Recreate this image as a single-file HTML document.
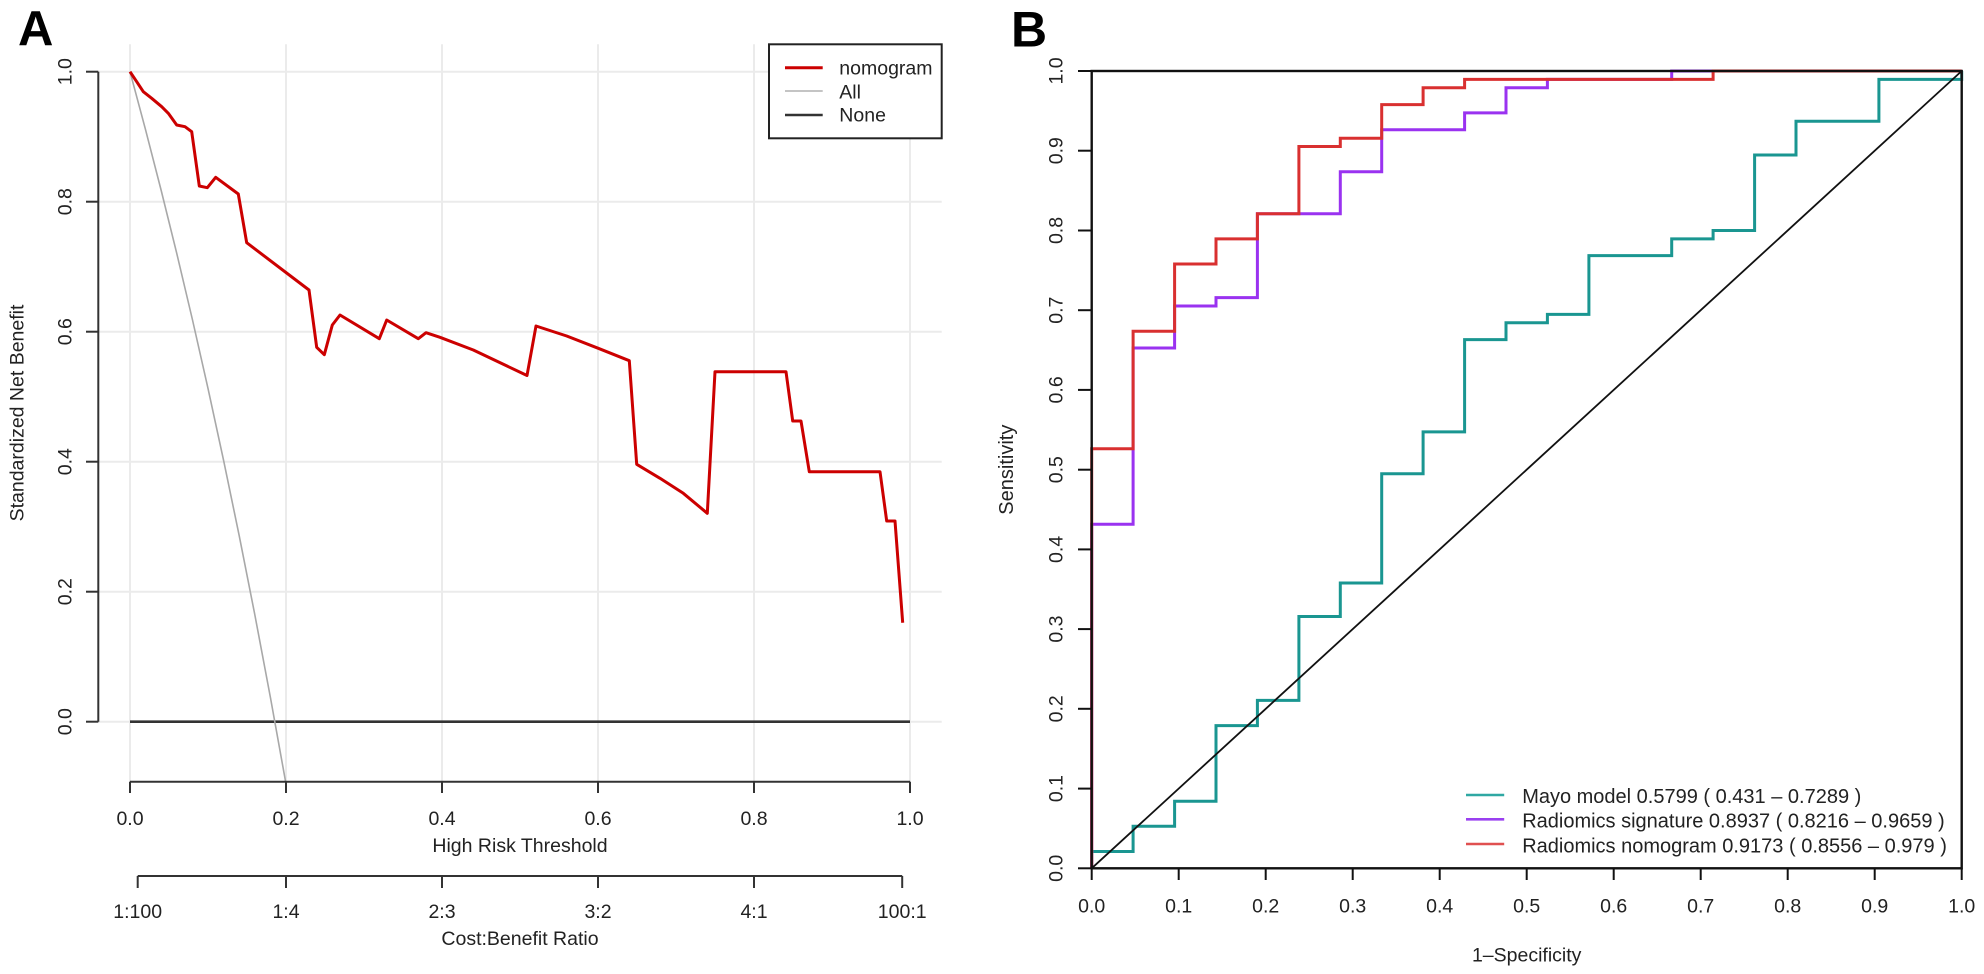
<!DOCTYPE html>
<html>
<head>
<meta charset="utf-8">
<style>
html,body{margin:0;padding:0;background:#fff;}
svg{display:block;}
text{font-family:"Liberation Sans",Arial,sans-serif;fill:#222;}
</style>
</head>
<body>
<svg width="1984" height="974" viewBox="0 0 1984 974" xmlns="http://www.w3.org/2000/svg">
<rect width="1984" height="974" fill="#fff"/>

<!-- ================= PANEL A ================= -->
<text x="18" y="45" font-size="49" font-weight="bold" fill="#000" style="fill:#000">A</text>

<!-- grid -->
<g stroke="#ebebeb" stroke-width="2" fill="none">
  <line x1="98.3" y1="721.7" x2="941.7" y2="721.7"/>
  <line x1="98.3" y1="591.7" x2="941.7" y2="591.7"/>
  <line x1="98.3" y1="461.7" x2="941.7" y2="461.7"/>
  <line x1="98.3" y1="331.7" x2="941.7" y2="331.7"/>
  <line x1="98.3" y1="201.7" x2="941.7" y2="201.7"/>
  <line x1="98.3" y1="71.7" x2="941.7" y2="71.7"/>
  <line x1="130" y1="44.3" x2="130" y2="781.7"/>
  <line x1="286" y1="44.3" x2="286" y2="781.7"/>
  <line x1="442" y1="44.3" x2="442" y2="781.7"/>
  <line x1="598" y1="44.3" x2="598" y2="781.7"/>
  <line x1="754" y1="44.3" x2="754" y2="781.7"/>
  <line x1="910" y1="44.3" x2="910" y2="781.7"/>
</g>

<!-- None line -->
<line x1="130" y1="721.7" x2="910" y2="721.7" stroke="#333" stroke-width="2.6"/>

<!-- All line -->
<polyline fill="none" stroke="#a8a8a8" stroke-width="1.6"
  points="130,71.7 145.6,129.9 161.2,190.5 176.8,253.6 192.4,319.5 208,388.4 223.6,460.4 239.2,535.7 254.8,614.6 270.4,697.4 285.6,781.7"/>

<!-- nomogram line -->
<polyline fill="none" stroke="#cc0000" stroke-width="3" stroke-linejoin="round"
  points="130,71.7 136.7,81.7 143.3,91.7 151.7,98.3 161.7,106.7 168.3,113.3 176.7,125 185,126.7 191.7,131.7 199.3,186 207.3,187.7 215.7,177.3 238.3,194 246.7,242.7 309,290 316.7,347.3 324.3,354.7 332.3,325 340,315 379.3,338.7 386.7,320 418.3,338.7 426,332.7 440,337.3 473.3,350 527,375.5 536,326 566.7,336 598.3,348.3 629.3,360.7 636.7,464.3 660,478.3 683.3,493.3 707.3,513.3 715,371.7 786,371.7 792.7,421 801,421 809.3,471.7 880,471.7 886.7,521 895,521 902.7,622.7"/>

<!-- y axis A -->
<g stroke="#333" stroke-width="2" fill="none">
  <line x1="98.3" y1="71.7" x2="98.3" y2="721.7"/>
  <line x1="86" y1="721.7" x2="98.3" y2="721.7"/>
  <line x1="86" y1="591.7" x2="98.3" y2="591.7"/>
  <line x1="86" y1="461.7" x2="98.3" y2="461.7"/>
  <line x1="86" y1="331.7" x2="98.3" y2="331.7"/>
  <line x1="86" y1="201.7" x2="98.3" y2="201.7"/>
  <line x1="86" y1="71.7" x2="98.3" y2="71.7"/>
</g>
<g font-size="19.5" text-anchor="middle">
  <text transform="translate(71.7,721.7) rotate(-90)">0.0</text>
  <text transform="translate(71.7,591.7) rotate(-90)">0.2</text>
  <text transform="translate(71.7,461.7) rotate(-90)">0.4</text>
  <text transform="translate(71.7,331.7) rotate(-90)">0.6</text>
  <text transform="translate(71.7,201.7) rotate(-90)">0.8</text>
  <text transform="translate(71.7,71.7) rotate(-90)">1.0</text>
  <text transform="translate(23.3,413) rotate(-90)">Standardized Net Benefit</text>
</g>

<!-- x axis A -->
<g stroke="#333" stroke-width="2" fill="none">
  <line x1="130" y1="781.7" x2="910" y2="781.7"/>
  <line x1="130" y1="781.7" x2="130" y2="793"/>
  <line x1="286" y1="781.7" x2="286" y2="793"/>
  <line x1="442" y1="781.7" x2="442" y2="793"/>
  <line x1="598" y1="781.7" x2="598" y2="793"/>
  <line x1="754" y1="781.7" x2="754" y2="793"/>
  <line x1="910" y1="781.7" x2="910" y2="793"/>
  <line x1="137.7" y1="876" x2="902.2" y2="876"/>
  <line x1="137.7" y1="876" x2="137.7" y2="888"/>
  <line x1="286" y1="876" x2="286" y2="888"/>
  <line x1="442" y1="876" x2="442" y2="888"/>
  <line x1="598" y1="876" x2="598" y2="888"/>
  <line x1="754" y1="876" x2="754" y2="888"/>
  <line x1="902.2" y1="876" x2="902.2" y2="888"/>
</g>
<g font-size="19.5" text-anchor="middle">
  <text x="130" y="825">0.0</text>
  <text x="286" y="825">0.2</text>
  <text x="442" y="825">0.4</text>
  <text x="598" y="825">0.6</text>
  <text x="754" y="825">0.8</text>
  <text x="910" y="825">1.0</text>
  <text x="520" y="852">High Risk Threshold</text>
  <text x="137.7" y="918">1:100</text>
  <text x="286" y="918">1:4</text>
  <text x="442" y="918">2:3</text>
  <text x="598" y="918">3:2</text>
  <text x="754" y="918">4:1</text>
  <text x="902.2" y="918">100:1</text>
  <text x="520" y="945">Cost:Benefit Ratio</text>
</g>

<!-- legend A -->
<rect x="769" y="44.3" width="172.7" height="94" fill="#fff" stroke="#222" stroke-width="2"/>
<line x1="785" y1="67.7" x2="822.7" y2="67.7" stroke="#cc0000" stroke-width="3"/>
<line x1="785" y1="91" x2="822.7" y2="91" stroke="#b0b0b0" stroke-width="1.6"/>
<line x1="785" y1="115" x2="822.7" y2="115" stroke="#333" stroke-width="2.6"/>
<g font-size="19.5">
  <text x="839.3" y="74.5">nomogram</text>
  <text x="839.3" y="98.3">All</text>
  <text x="839.3" y="121.7">None</text>
</g>

<!-- ================= PANEL B ================= -->
<text x="1011" y="46.5" font-size="50" font-weight="bold" style="fill:#000">B</text>

<!-- curves -->
<path fill="none" stroke="#1a9691" stroke-width="3"
  d="M1091.7,868.3 V851.5 H1133.1 V826.3 H1174.6 V801.2 H1216.0 V725.6 H1257.4 V700.4 H1298.9 V616.5 H1340.3 V583.0 H1381.7 V473.8 H1423.1 V431.9 H1464.6 V339.6 H1506.0 V322.8 H1547.4 V314.4 H1588.9 V255.6 H1671.7 V238.9 H1713.1 V230.5 H1754.6 V155.0 H1796.0 V121.3 H1878.9 V79.4 H1961.7 V71.0"/>
<path fill="none" stroke="#9a32f0" stroke-width="3"
  d="M1091.7,868.3 V524.2 H1133.1 V348.0 H1174.6 V306.0 H1216.0 V297.6 H1257.4 V213.7 H1340.3 V171.7 H1381.7 V129.8 H1464.6 V112.9 H1506.0 V87.8 H1547.4 V79.4 H1671.7 V71.0 H1961.7"/>
<path fill="none" stroke="#d93030" stroke-width="3"
  d="M1091.7,868.3 V448.7 H1133.1 V331.2 H1174.6 V264.0 H1216.0 V238.9 H1257.4 V213.7 H1298.9 V146.5 H1340.3 V138.2 H1381.7 V104.6 H1423.1 V87.8 H1464.6 V79.4 H1713.1 V71.0 H1961.7"/>

<!-- diagonal -->
<line x1="1091.7" y1="868.3" x2="1961.7" y2="71" stroke="#111" stroke-width="1.8"/>

<!-- box -->
<rect x="1091.7" y="71" width="870" height="797.3" fill="none" stroke="#111" stroke-width="2.4"/>

<!-- B y ticks -->
<g stroke="#111" stroke-width="2">
  <line x1="1078" y1="868.3" x2="1091.7" y2="868.3"/>
  <line x1="1078" y1="788.6" x2="1091.7" y2="788.6"/>
  <line x1="1078" y1="708.8" x2="1091.7" y2="708.8"/>
  <line x1="1078" y1="629.1" x2="1091.7" y2="629.1"/>
  <line x1="1078" y1="549.4" x2="1091.7" y2="549.4"/>
  <line x1="1078" y1="469.7" x2="1091.7" y2="469.7"/>
  <line x1="1078" y1="389.9" x2="1091.7" y2="389.9"/>
  <line x1="1078" y1="310.2" x2="1091.7" y2="310.2"/>
  <line x1="1078" y1="230.5" x2="1091.7" y2="230.5"/>
  <line x1="1078" y1="150.7" x2="1091.7" y2="150.7"/>
  <line x1="1078" y1="71" x2="1091.7" y2="71"/>
</g>
<g font-size="19.5" text-anchor="middle">
  <text transform="translate(1062.7,868.3) rotate(-90)">0.0</text>
  <text transform="translate(1062.7,788.6) rotate(-90)">0.1</text>
  <text transform="translate(1062.7,708.8) rotate(-90)">0.2</text>
  <text transform="translate(1062.7,629.1) rotate(-90)">0.3</text>
  <text transform="translate(1062.7,549.4) rotate(-90)">0.4</text>
  <text transform="translate(1062.7,469.7) rotate(-90)">0.5</text>
  <text transform="translate(1062.7,389.9) rotate(-90)">0.6</text>
  <text transform="translate(1062.7,310.2) rotate(-90)">0.7</text>
  <text transform="translate(1062.7,230.5) rotate(-90)">0.8</text>
  <text transform="translate(1062.7,150.7) rotate(-90)">0.9</text>
  <text transform="translate(1062.7,71) rotate(-90)">1.0</text>
  <text transform="translate(1012.8,469.7) rotate(-90)" font-size="20">Sensitivity</text>
</g>

<!-- B x ticks -->
<g stroke="#111" stroke-width="2">
  <line x1="1091.7" y1="868.3" x2="1091.7" y2="880"/>
  <line x1="1178.7" y1="868.3" x2="1178.7" y2="880"/>
  <line x1="1265.7" y1="868.3" x2="1265.7" y2="880"/>
  <line x1="1352.7" y1="868.3" x2="1352.7" y2="880"/>
  <line x1="1439.7" y1="868.3" x2="1439.7" y2="880"/>
  <line x1="1526.7" y1="868.3" x2="1526.7" y2="880"/>
  <line x1="1613.7" y1="868.3" x2="1613.7" y2="880"/>
  <line x1="1700.7" y1="868.3" x2="1700.7" y2="880"/>
  <line x1="1787.7" y1="868.3" x2="1787.7" y2="880"/>
  <line x1="1874.7" y1="868.3" x2="1874.7" y2="880"/>
  <line x1="1961.7" y1="868.3" x2="1961.7" y2="880"/>
</g>
<g font-size="19.5" text-anchor="middle">
  <text x="1091.7" y="912.7">0.0</text>
  <text x="1178.7" y="912.7">0.1</text>
  <text x="1265.7" y="912.7">0.2</text>
  <text x="1352.7" y="912.7">0.3</text>
  <text x="1439.7" y="912.7">0.4</text>
  <text x="1526.7" y="912.7">0.5</text>
  <text x="1613.7" y="912.7">0.6</text>
  <text x="1700.7" y="912.7">0.7</text>
  <text x="1787.7" y="912.7">0.8</text>
  <text x="1874.7" y="912.7">0.9</text>
  <text x="1961.7" y="912.7">1.0</text>
  <text x="1526.7" y="961.5">1–Specificity</text>
</g>

<!-- legend B -->
<line x1="1466" y1="795" x2="1504.2" y2="795" stroke="#2fa8a3" stroke-width="2.6"/>
<line x1="1466" y1="819.3" x2="1504.2" y2="819.3" stroke="#9a40f0" stroke-width="2.6"/>
<line x1="1466" y1="844" x2="1504.2" y2="844" stroke="#e05050" stroke-width="2.6"/>
<g font-size="20">
  <text x="1522.2" y="803">Mayo model 0.5799 ( 0.431 – 0.7289 )</text>
  <text x="1522.2" y="827.7">Radiomics signature 0.8937 ( 0.8216 – 0.9659 )</text>
  <text x="1522.2" y="852.3">Radiomics nomogram 0.9173 ( 0.8556 – 0.979 )</text>
</g>

</svg>
</body>
</html>
